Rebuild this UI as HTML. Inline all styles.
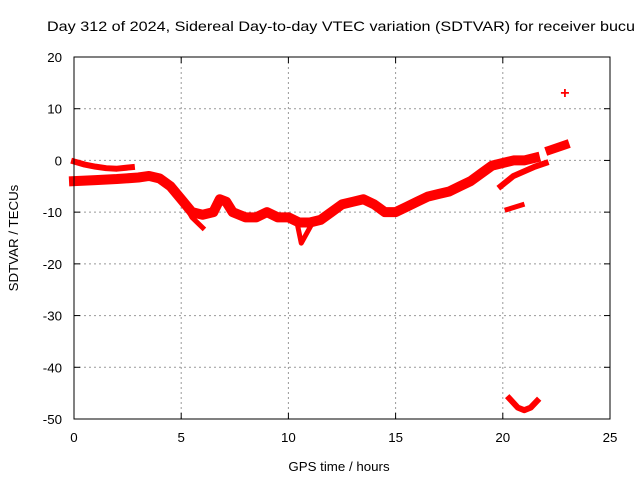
<!DOCTYPE html>
<html><head><meta charset="utf-8"><style>
body{margin:0;background:#fff}
svg{display:block;font-family:"Liberation Sans",sans-serif}
</style></head><body>
<svg id="c" width="640" height="480">
<text x="47" y="31" font-size="14" textLength="588" lengthAdjust="spacingAndGlyphs">Day 312 of 2024, Sidereal Day-to-day VTEC variation (SDTVAR) for receiver bucu</text>
<text x="339" y="471" font-size="13.3" text-anchor="middle">GPS time / hours</text>
<text transform="translate(18,238) rotate(-90)" font-size="13.3" text-anchor="middle">SDTVAR / TECUs</text>
<g id="grid"></g><g id="data"></g>
<rect x="74" y="57" width="536" height="362" fill="none" stroke="#000" stroke-width="1"/>
</svg>
<script>
const xTicks=[0,5,10,15,20,25];
const yTicks=[20,10,0,-10,-20,-30,-40,-50];
const segUpper=[[0,-0.2],[0.5,-0.8],[1,-1.2],[1.5,-1.5],[2,-1.6],[2.7,-1.3]];
const segMain=[[0,-4],[1,-3.8],[2,-3.6],[3,-3.3],[3.5,-3],[4,-3.5],[4.5,-5],[5,-7.5],[5.5,-10],[6,-10.5],[6.5,-10],[6.8,-7.5],[7.1,-8],[7.4,-10],[7.7,-10.5],[8,-11],[8.5,-11],[9,-10],[9.5,-11],[10,-11],[10.5,-12],[11,-12],[11.5,-11.5],[12,-10],[12.5,-8.5],[13,-8],[13.5,-7.5],[14,-8.5],[14.5,-10],[15,-10],[15.5,-9],[16,-8],[16.5,-7],[17,-6.5],[17.5,-6],[18,-5],[18.5,-4],[19,-2.5],[19.5,-1],[20,-0.5],[20.5,0],[21,0],[21.5,0.5]];
const segTail=[[5.1,-8],[5.5,-11],[6,-13]];
const segDip=[[10.4,-12],[10.6,-16],[11,-13]];
const segBranch=[[19.9,-5],[20.5,-3],[21.5,-1.2],[22,-0.5]];
const segLow=[[20.2,-9.5],[20.9,-8.6]];
const segHigh=[[22.2,2],[22.9,3]];
const segArc=[[20.3,-46],[20.7,-47.8],[21,-48.3],[21.3,-47.8],[21.6,-46.5]];
const segPoint=[[22.9,13]];
const X=v=>74+v*536/25, Y=v=>57+(20-v)*362/70;
const ns="http://www.w3.org/2000/svg", g=document.getElementById('grid'), d=document.getElementById('data');
function mk(tag,at,p){const e=document.createElementNS(ns,tag);for(const k in at)e.setAttribute(k,at[k]);p.appendChild(e);return e;}
xTicks.forEach(t=>{const x=X(t);
 if(t>0&&t<25){const l=mk('line',{x1:x,x2:x,y1:57,y2:419,stroke:'#999','stroke-dasharray':'2,3'},g);
 
 }
 mk('line',{x1:x,x2:x,y1:419,y2:413,stroke:'#000'},g);mk('line',{x1:x,x2:x,y1:57,y2:63,stroke:'#000'},g);
 const tx=mk('text',{x:x,y:442,'font-size':13.3,'text-anchor':'middle'},g);tx.textContent=t;
 
 });
yTicks.forEach(t=>{const y=Y(t);
 if(t<20&&t>-50){const l=mk('line',{x1:74,x2:610,y1:y,y2:y,stroke:'#999','stroke-dasharray':'2,3'},g);
 
 }
 mk('line',{x1:74,x2:80,y1:y,y2:y,stroke:'#000'},g);mk('line',{x1:610,x2:604,y1:y,y2:y,stroke:'#000'},g);
 const tx=mk('text',{x:62,y:y+5,'font-size':13.3,'text-anchor':'end'},g);tx.textContent=t;
 
 });
[[segUpper,6],[segMain,10],[segTail,5],[segDip,5],[segBranch,6],[segLow,5],[segHigh,9],[segArc,6]].forEach(([s,w])=>{
 const p=mk('polyline',{points:s.map(q=>X(q[0])+','+Y(q[1])).join(' '),fill:'none',stroke:'#f00','stroke-width':w,'stroke-linejoin':'round','stroke-linecap':'square'},d);
 
 });
segPoint.forEach(q=>{const t=mk('text',{x:X(q[0]),y:Y(q[1])+5,'font-size':16,fill:'#f00','text-anchor':'middle','font-weight':'bold'},d);t.textContent='+';
 
 });
</script>
</body></html>
